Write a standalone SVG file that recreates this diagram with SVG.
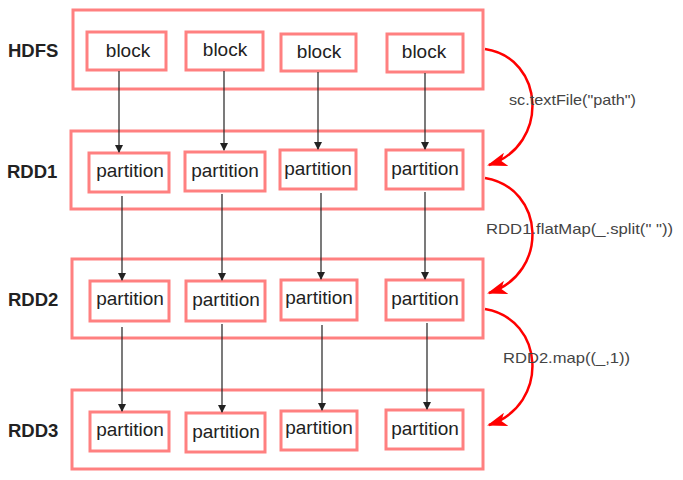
<svg xmlns="http://www.w3.org/2000/svg" width="683" height="480" viewBox="0 0 683 480">
<defs>
<style>
.outer{fill:#fff;stroke:#ff8080;stroke-width:3}
.box{fill:#fff;stroke:#ff8080;stroke-width:3}
.t{font-family:"Liberation Sans",Arial,sans-serif;font-size:19px;fill:#222;text-anchor:middle}
.lbl{font-family:"Liberation Sans",Arial,sans-serif;font-size:18.5px;font-weight:bold;fill:#222}
.op{font-family:"Liberation Sans",Arial,sans-serif;font-size:15px;fill:#444}
.v{stroke:#222;stroke-width:1.2;fill:none;marker-end:url(#ah)}
.r{stroke:#ff0000;stroke-width:2.5;fill:none;marker-end:url(#rh)}
</style>
<marker id="ah" markerWidth="8" markerHeight="16" refX="7" refY="4" orient="auto" markerUnits="userSpaceOnUse" viewBox="0 0 8 16">
<path d="M0,0 L16,4 L0,8 Z" fill="#222" transform="scale(0.5,1)"/>
</marker>
<marker id="rh" markerWidth="20" markerHeight="14" refX="18" refY="7" orient="auto" markerUnits="userSpaceOnUse">
<path d="M0,0 L20,7 L0,14 L5,7 Z" fill="#ff0000"/>
</marker>
</defs>
<rect width="683" height="480" fill="#fff"/>

<g id="hdfs">
<rect class="outer" x="73" y="10" width="410" height="79"/>
<text class="lbl" x="8" y="57">HDFS</text>
<g id="b1"><rect class="box" x="87" y="32" width="79" height="38"/><text class="t" x="128" y="57">block</text></g>
<g id="b2"><rect class="box" x="186" y="32" width="77" height="38"/><text class="t" x="225" y="56">block</text></g>
<g id="b3"><rect class="box" x="281" y="34" width="75" height="37"/><text class="t" x="319" y="58">block</text></g>
<g id="b4"><rect class="box" x="387" y="34" width="76" height="38"/><text class="t" x="424" y="58">block</text></g>
</g>

<g id="rdd1">
<rect class="outer" x="71" y="131" width="412" height="78"/>
<text class="lbl" x="7" y="178">RDD1</text>
<g id="r1p1"><rect class="box" x="89" y="153" width="80" height="39"/><text class="t" x="130" y="177">partition</text></g>
<g id="r1p2"><rect class="box" x="185" y="152" width="80" height="39"/><text class="t" x="225" y="177">partition</text></g>
<g id="r1p3"><rect class="box" x="280" y="150" width="76" height="39"/><text class="t" x="318" y="175">partition</text></g>
<g id="r1p4"><rect class="box" x="386" y="150" width="77" height="39"/><text class="t" x="425" y="175">partition</text></g>
</g>

<g id="rdd2">
<rect class="outer" x="72" y="259" width="411" height="79"/>
<text class="lbl" x="8" y="306">RDD2</text>
<g id="r2p1"><rect class="box" x="90" y="281" width="79" height="40"/><text class="t" x="130" y="305">partition</text></g>
<g id="r2p2"><rect class="box" x="186" y="281" width="79" height="40"/><text class="t" x="226" y="306">partition</text></g>
<g id="r2p3"><rect class="box" x="281" y="280" width="76" height="40"/><text class="t" x="319" y="304">partition</text></g>
<g id="r2p4"><rect class="box" x="386" y="280" width="77" height="40"/><text class="t" x="425" y="305">partition</text></g>
</g>

<g id="rdd3">
<rect class="outer" x="72" y="390" width="411" height="79"/>
<text class="lbl" x="8" y="437">RDD3</text>
<g id="r3p1"><rect class="box" x="90" y="412" width="79" height="39"/><text class="t" x="130" y="436">partition</text></g>
<g id="r3p2"><rect class="box" x="186" y="413" width="79" height="39"/><text class="t" x="226" y="438">partition</text></g>
<g id="r3p3"><rect class="box" x="281" y="411" width="76" height="39"/><text class="t" x="319" y="434">partition</text></g>
<g id="r3p4"><rect class="box" x="386" y="410" width="77" height="39"/><text class="t" x="425" y="435">partition</text></g>
</g>

<g id="connectors">
<line class="v" x1="119" y1="71" x2="119" y2="152"/>
<line class="v" x1="224" y1="71" x2="224" y2="150"/>
<line class="v" x1="318" y1="72" x2="318" y2="149"/>
<line class="v" x1="425" y1="73" x2="425" y2="149"/>

<line class="v" x1="122" y1="196" x2="122" y2="280"/>
<line class="v" x1="222" y1="194" x2="222" y2="280"/>
<line class="v" x1="321" y1="193" x2="321" y2="279"/>
<line class="v" x1="425" y1="192" x2="425" y2="279"/>

<line class="v" x1="122" y1="327" x2="122" y2="411"/>
<line class="v" x1="222" y1="324" x2="222" y2="412"/>
<line class="v" x1="322" y1="325" x2="322" y2="410"/>
<line class="v" x1="427" y1="323" x2="427" y2="409"/>

<path class="r" d="M485,49 C545,58 550,145 489,165"/>
<path class="r" d="M485,178 C545,188 550,273 489,293"/>
<path class="r" d="M485,309 C545,319 550,405 489,425"/>

<text class="op" x="509" y="105" textLength="127" lengthAdjust="spacingAndGlyphs">sc.textFile("path")</text>
<text class="op" x="486" y="234" textLength="187" lengthAdjust="spacingAndGlyphs">RDD1.flatMap(_.split(" "))</text>
<text class="op" x="503" y="363" textLength="127" lengthAdjust="spacingAndGlyphs">RDD2.map((_,1))</text>
</g>
</svg>
